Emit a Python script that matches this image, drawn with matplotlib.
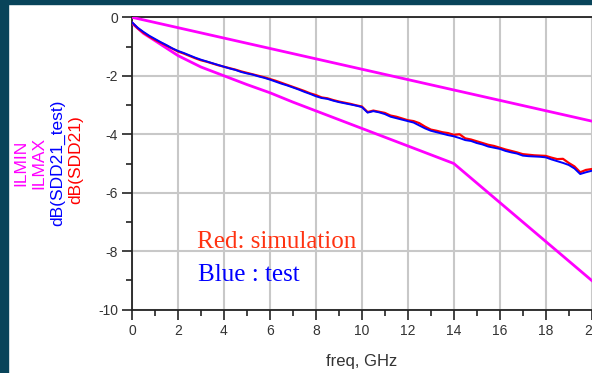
import numpy as np
import matplotlib
matplotlib.use("Agg")
import matplotlib.pyplot as plt
from matplotlib.patches import Rectangle

plt.rcParams["axes.unicode_minus"] = False

# --- data ---
freq = np.arange(0, 20.01, 0.25)  # GHz, measurement grid

sdd21_test = [
    -0.17, -0.36, -0.50, -0.63, -0.74, -0.85, -0.95, -1.06, -1.15, -1.22,
    -1.30, -1.38, -1.45, -1.51, -1.57, -1.63, -1.69, -1.75, -1.80, -1.87,
    -1.92, -1.96, -2.02, -2.07, -2.13, -2.20, -2.27, -2.33, -2.40, -2.47,
    -2.55, -2.62, -2.70, -2.76, -2.79, -2.85, -2.90, -2.94, -2.98, -3.02,
    -3.07, -3.26, -3.21, -3.25, -3.31, -3.40, -3.45, -3.50, -3.55, -3.60,
    -3.70, -3.80, -3.88, -3.93, -3.98, -4.03, -4.07, -4.13, -4.20, -4.23,
    -4.30, -4.35, -4.42, -4.46, -4.50, -4.57, -4.62, -4.66, -4.73, -4.75,
    -4.76, -4.77, -4.79, -4.86, -4.92, -4.98, -5.05, -5.17, -5.36, -5.30,
    -5.25,
]

sdd21_sim = [
    -0.18, -0.38, -0.53, -0.66, -0.77, -0.87, -0.97, -1.07, -1.17, -1.24,
    -1.32, -1.40, -1.47, -1.52, -1.58, -1.64, -1.69, -1.74, -1.79, -1.85,
    -1.90, -1.95, -2.00, -2.05, -2.11, -2.17, -2.24, -2.31, -2.38, -2.45,
    -2.52, -2.60, -2.66, -2.74, -2.77, -2.83, -2.88, -2.92, -2.96, -3.01,
    -3.05, -3.24, -3.19, -3.23, -3.27, -3.36, -3.40, -3.46, -3.52, -3.55,
    -3.62, -3.74, -3.84, -3.88, -3.93, -3.96, -4.02, -4.00, -4.14, -4.18,
    -4.24, -4.30, -4.36, -4.40, -4.46, -4.52, -4.57, -4.62, -4.68, -4.70,
    -4.72, -4.73, -4.74, -4.80, -4.85, -4.84, -4.98, -5.10, -5.30, -5.22,
    -5.19,
]

ilmin_f = [0, 0.5, 1, 2, 3, 4, 5, 6, 7, 8, 9, 10, 11, 12, 13, 14, 20]
ilmin = [-0.20, -0.55, -0.80, -1.31, -1.70, -2.00, -2.30, -2.58, -2.90,
         -3.20, -3.50, -3.80, -4.10, -4.40, -4.70, -5.00, -9.00]

ilmax_f = [0, 20]
ilmax = [0.0, -3.55]

xticks = list(range(0, 21, 2))
yticks = list(range(-10, 1, 2))

W, H = 592, 373
fig = plt.figure(figsize=(W / 100, H / 100), dpi=100)
fig.patch.set_facecolor("white")

# dark frame on the left and top
border = "#08445a"
fig.patches.append(Rectangle((0, 0), 8 / W, 1, transform=fig.transFigure,
                             color=border, zorder=0))
fig.patches.append(Rectangle((0, 1 - 4 / H), 1, 4 / H, transform=fig.transFigure,
                             color=border, zorder=0))

ax = fig.add_axes([132 / W, 63.3 / H, 459.7 / W, 292.4 / H])

ax.plot(ilmax_f, ilmax, color="#ff00ff", lw=2.0, zorder=3)
ax.plot(ilmin_f, ilmin, color="#ff00ff", lw=2.0, zorder=3)
ax.plot(freq, sdd21_sim, color="#ff0000", lw=1.6, zorder=4)
ax.plot(freq, sdd21_test, color="#0000ff", lw=1.4, zorder=5)

ax.set_xlim(0, 20)
ax.set_ylim(-10, 0)
ax.set_xticks(xticks)
ax.set_yticks(yticks)
ax.set_xticks(range(1, 20, 2), minor=True)
ax.set_yticks(range(-9, 0, 2), minor=True)
ax.grid(True, which="major", color="#c8c8c8", lw=1.5, zorder=0)
ax.tick_params(which="major", direction="out", length=7, width=1.2,
               color="#222222", labelsize=10, labelcolor="#333333", pad=3)
ax.tick_params(which="minor", direction="out", length=4.5, width=1.2,
               color="#222222")
for lab in ax.get_xticklabels() + ax.get_yticklabels():
    lab.set_fontfamily("Liberation Sans")

for side in ["left", "top", "bottom"]:
    ax.spines[side].set_linewidth(1.3)
    ax.spines[side].set_color("#222222")
ax.spines["right"].set_visible(False)

ax.set_xlabel("freq, GHz", fontsize=12, family="Liberation Sans",
              color="#333333", labelpad=12)

# stacked y labels, one per trace
ylab = [("ILMIN", "#ff00ff", 21.0, 163),
        ("ILMAX", "#ff00ff", 39.0, 163),
        ("dB(SDD21_test)", "#0000ff", 57.5, 163),
        ("dB(SDD21)", "#ff0000", 76.0, 160)]
for txt, col, px, py in ylab:
    fig.text(px / W, 1 - py / H, txt, rotation=90, color=col, fontsize=12.5,
             family="Liberation Sans", ha="center", va="center")

ax.text(2.84, -7.9, "Red: simulation", color="#ff3311", fontsize=18,
        family="Liberation Serif", va="baseline", zorder=6)
ax.text(2.87, -9.01, "Blue : test", color="#0000ff", fontsize=18,
        family="Liberation Serif", va="baseline", zorder=6)

fig.savefig("out.png", dpi=100)
